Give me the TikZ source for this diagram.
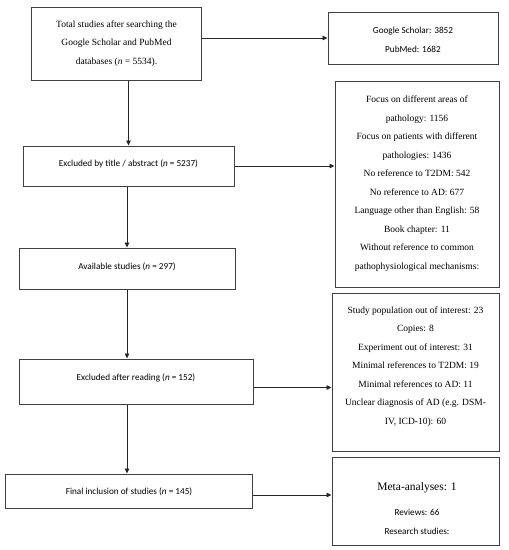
\documentclass[tikz,border=0pt]{standalone}
\usepackage{fontspec}
\setmainfont{Liberation Serif}
\newfontfamily\calibri{Carlito}
\usetikzlibrary{fit,arrows.meta}
\begin{document}
\begin{tikzpicture}[x=1pt,y=-1pt,
  box/.style={draw=black!75, line width=1pt, inner sep=0pt, fit={#1}},
  arr/.style={draw=black!85, line width=0.9pt, -{Triangle[length=5pt,width=4.5pt]}},
  ser/.style={font=\fontsize{9.5}{18.5}\selectfont, align=center, inner sep=0pt, text=black},
  sans/.style={font=\calibri\fontsize{9.2}{18.5}\selectfont, align=center, inner sep=0pt, text=black}
]
\useasboundingbox (0,0) rectangle (509,550);
% boxes
\node[box={(31,7) (201,80)}] (b1) {};
\node[box={(328,12) (498,64)}] (gs) {};
\node[box={(23,146) (234,186)}] (ex1) {};
\node[box={(335,81) (499,287)}] (foc) {};
\node[box={(19,248) (235,289)}] (av) {};
\node[box={(332,293) (499,451)}] (sp) {};
\node[box={(19,359) (253,404)}] (ex2) {};
\node[box={(5,474) (252,508)}] (fin) {};
\node[box={(332,457) (499,545)}] (meta) {};
% texts
\node[ser] (t1) at (116.5,43.5) {Total studies after searching the\\Google Scholar and PubMed\\databases (\textit{n} = 5534).};
\node[sans] (tgs) at (413,40) {Google Scholar: 3852\\PubMed: 1682};
\node[sans] (tex1) at (128.5,164) {Excluded by title / abstract (\textit{n} = 5237)};
\node[ser] (tfoc) at (417,183.5) {Focus on different areas of\\pathology: 1156\\Focus on patients with different\\pathologies: 1436\\No reference to T2DM: 542\\No reference to AD: 677\\Language other than English: 58\\Book chapter: 11\\Without reference to common\\pathophysiological mechanisms:};
\node[sans] (tav) at (127,267) {Available studies (\textit{n} = 297)};
\node[ser] (tsp) at (415.5,366.5) {Study population out of interest: 23\\Copies: 8\\Experiment out of interest: 31\\Minimal references to T2DM: 19\\Minimal references to AD: 11\\Unclear diagnosis of AD (e.g. DSM-\\IV, ICD-10): 60};
\node[sans] (tex2) at (136,378) {Excluded after reading (\textit{n} = 152)};
\node[sans] (tfin) at (129,492) {Final inclusion of studies (\textit{n} = 145)};
\node[ser, font=\fontsize{11.5}{14}\selectfont] (tm1) at (417,488) {Meta-analyses: 1};
\node[sans, font=\calibri\fontsize{9.2}{19}\selectfont] (tm2) at (417,521.5) {Reviews: 66\\Research studies:};
% connectors
\draw[arr] (b1.east |- gs.west) -- (gs.west);
\draw[arr] (ex1.north |- b1.south) -- (ex1.north);
\draw[arr] (ex1.east) -- (ex1.east -| foc.west);
\draw[arr] (av.north |- ex1.south) -- (av.north);
\draw[arr] (av.south) -- (av.south |- ex2.north);
\draw[arr] ([yshift=-6pt]ex2.east) -- ([yshift=-6pt]ex2.east -| sp.west);
\draw[arr] (av.south |- ex2.south) -- (av.south |- fin.north);
\draw[arr] ([yshift=-4pt]fin.east) -- ([yshift=-4pt]fin.east -| meta.west);
\end{tikzpicture}
\end{document}
